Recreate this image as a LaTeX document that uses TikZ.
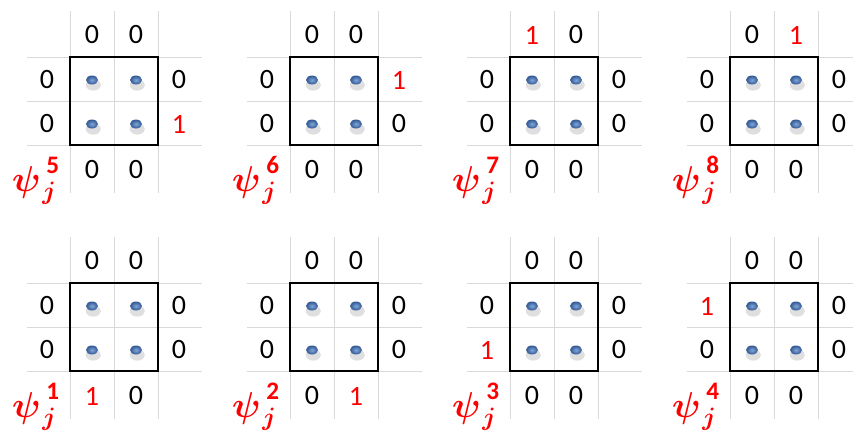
\RequirePackage{fix-cm}
\documentclass[tikz,border=0pt]{standalone}
\usepackage{amsmath,bm}
\usepackage{fontspec}
\setmainfont{Carlito}
\usepackage{tikz}
\usetikzlibrary{shapes.geometric, shadows}
\definecolor{gridgray}{HTML}{D9D9D9}
\definecolor{dotblue}{HTML}{3E74C2}
\newcommand{\hi}{\textcolor{red}{1}}

\begin{document}
\begin{tikzpicture}[x=1pt, y=-1pt,
  num/.style={font=\fontsize{28}{30}\selectfont, inner sep=0pt},
  gridline/.style={gridgray, line width=1pt},
  cellbox/.style={black, line width=1.8pt},
  dot/.style={ellipse, minimum width=12pt, minimum height=9pt, inner sep=0pt,
    shading=radial, inner color=dotblue!65!white, outer color=dotblue!75!black,
    drop shadow={shadow xshift=1pt, shadow yshift=-4pt,
    shadow scale=1.25, opacity=.18, fill=black!70}},
  psilabel/.style={red, inner sep=0pt, anchor=base west,
    font=\fontsize{36}{40}\selectfont}]
  \useasboundingbox (0,0) rectangle (853,432);
  % panels: k / box corner / top / left / right / bottom
  \foreach \k/\ox/\oy/\ta/\tb/\la/\lb/\ra/\rb/\ba/\bb in {
      5/70/57/0/0/0/0/0/\hi/0/0,
      6/290/57/0/0/0/0/\hi/0/0/0,
      7/510/57/\hi/0/0/0/0/0/0/0,
      8/730/57/0/\hi/0/0/0/0/0/0,
      1/70/283/0/0/0/0/0/0/\hi/0,
      2/290/283/0/0/0/0/0/0/0/\hi,
      3/510/283/0/0/0/\hi/0/0/0/0,
      4/730/283/0/0/\hi/0/0/0/0/0}{
    \begin{scope}[shift={(\ox,\oy)}]
      % light grid
      \foreach \g in {0,44,88}{
        \draw[gridline] (\g,-46) -- (\g,136);
        \draw[gridline] (-43,\g) -- (132,\g);
      }
      \draw[cellbox] (0,0) rectangle (88,88);
      % the four points
      \foreach \i/\dx in {1/22,2/66}
        \foreach \j/\dy in {1/23,2/67}
          \node[dot] (d\k\i\j) at (\dx,\dy) {};
      % boundary values
      \node[num] (t\k a) at (22,-22) {\ta};
      \node[num] (t\k b) at (66,-22) {\tb};
      \node[num] (l\k a) at (-23,23) {\la};
      \node[num] (l\k b) at (-23,67) {\lb};
      \node[num] (r\k a) at (109,23) {\ra};
      \node[num] (r\k b) at (109,67) {\rb};
      \node[num] (b\k a) at (22,113) {\ba};
      \node[num] (b\k b) at (66,113) {\bb};
      \node[psilabel] (psi\k) at (-58,134)
        {$\boldsymbol{\psi}^{\mkern4mu\raisebox{4pt}{$\scriptstyle\mathbf{\k}$}}_{\mkern2mu\boldsymbol{j}}$};
    \end{scope}
  }
\end{tikzpicture}
\end{document}
